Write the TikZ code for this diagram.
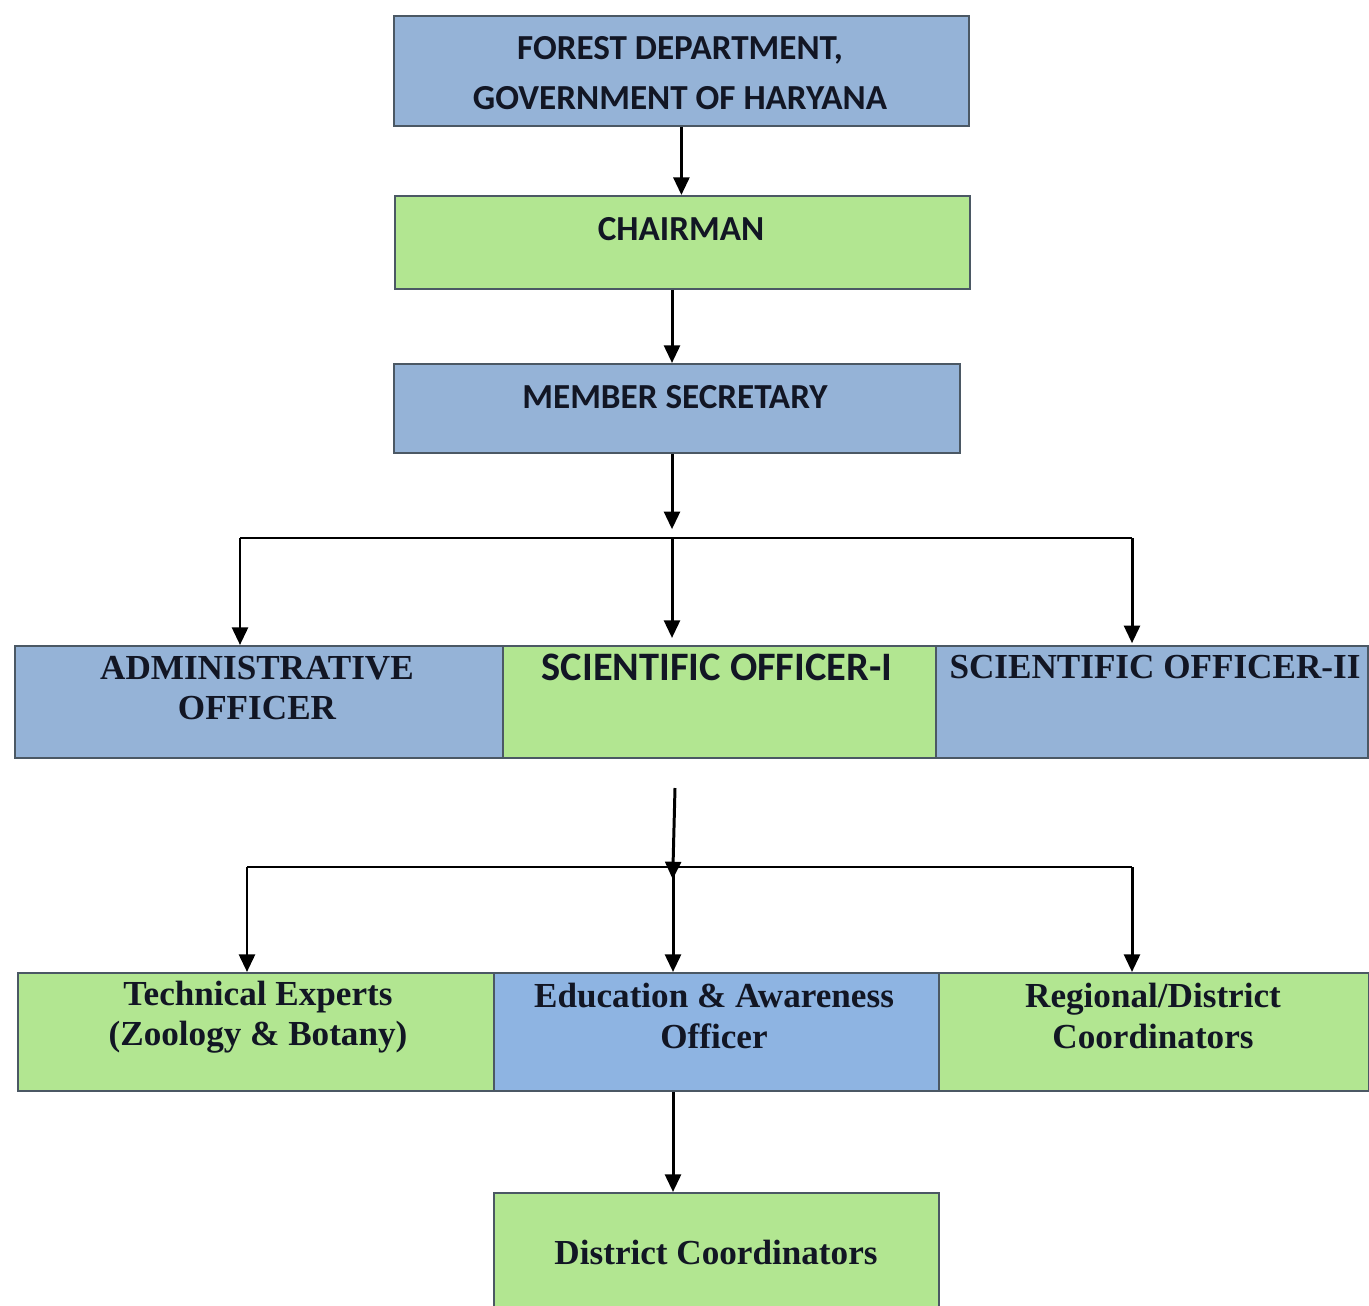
\documentclass[tikz,border=0pt]{standalone}
\usepackage{fontspec}
\usepackage{xcolor}
\usepackage{tikz}
\usetikzlibrary{arrows.meta}
\newfontfamily\calib{Carlito}
\newfontfamily\tnr{Liberation Serif}
\definecolor{boxblue}{RGB}{149,179,215}
\definecolor{edublue}{RGB}{142,180,226}
\definecolor{boxgreen}{RGB}{178,230,145}
\definecolor{boxline}{RGB}{75,88,100}
\definecolor{ink}{RGB}{18,22,36}
\begin{document}
\begin{tikzpicture}[x=0.02cm, y=-0.02cm,
    box/.style={draw=boxline, line width=1.1pt, anchor=north west, inner sep=0pt},
    bluebox/.style={box, fill=boxblue},
    greenbox/.style={box, fill=boxgreen},
    capsans/.style={text=ink, align=center, font=\calib\bfseries\fontsize{20}{28}\selectfont},
    serifbold/.style={text=ink, align=center, font=\tnr\bfseries\fontsize{20}{23}\selectfont},
    arrow/.style={line width=1.7pt, -{Triangle[length=10pt,width=9pt]}},
    busline/.style={line width=1.1pt}]
            \clip (0,0) rectangle (1369,1305);
            \fill[white] (0,0) rectangle (1369,1305);
            % Top of the chart
            \node[bluebox, minimum width=11.5cm, minimum height=2.2cm] (forest) at (393,15) {};
            \node[capsans] (forest-t) at (680,73) {FOREST DEPARTMENT,\\GOVERNMENT OF HARYANA};
            \node[greenbox, minimum width=11.5cm, minimum height=1.86cm] (chair) at (394,195) {};
            \node[capsans] (chair-t) at (681,229) {CHAIRMAN};
            \node[bluebox, minimum width=11.32cm, minimum height=1.78cm] (memsec) at (393,363) {};
            \node[capsans] (memsec-t) at (675,397) {MEMBER SECRETARY};
            % Officers
            \node[bluebox, minimum width=9.76cm, minimum height=2.24cm] (admin) at (14,645) {};
            \node[serifbold] (admin-t) at (257,688) {ADMINISTRATIVE\\OFFICER};
            \node[greenbox, minimum width=8.66cm, minimum height=2.24cm] (sci1) at (502,645) {};
            \node[capsans, font=\calib\bfseries\fontsize{23}{28}\selectfont] (sci1-t) at (717,667) {SCIENTIFIC OFFICER-I};
            \node[bluebox, minimum width=8.64cm, minimum height=2.24cm] (sci2) at (935,645) {};
            \node[serifbold] (sci2-t) at (1155,667) {SCIENTIFIC OFFICER-II};
            % Experts and coordinators
            \node[greenbox, minimum width=9.52cm, minimum height=2.36cm] (tech) at (17,972) {};
            \node[serifbold] (tech-t) at (258,1017) {Technical Experts\\(Zoology \& Botany)};
            \node[box, fill=edublue, minimum width=8.9cm, minimum height=2.36cm] (edu) at (493,972) {};
            \node[serifbold] (edu-t) at (714,1016) {Education \& Awareness\\Officer};
            \node[greenbox, minimum width=8.6cm, minimum height=2.36cm] (region) at (938,972) {};
            \node[serifbold] (region-t) at (1153,1016) {Regional/District\\Coordinators};
            \node[greenbox, minimum width=8.9cm, minimum height=2.8cm] (district) at (493,1192) {};
            \node[serifbold] (district-t) at (716,1252) {District Coordinators};
            % Bus points
            \coordinate (bus1l) at (240,538);
            \coordinate (bus1) at (672,538);
            \coordinate (bus1r) at (1132,538);
            \coordinate (src2) at (675,788);
            \coordinate (bus2l) at (247,867);
            \coordinate (bus2) at (673,867);
            \coordinate (bus2r) at (1132,867);
            % Connectors
            \draw[arrow] (forest.south) -- (chair.north -| forest.south);
            \draw[arrow] (chair.south -| bus1) -- (memsec.north -| bus1);
            \draw[arrow, shorten >=5pt] (memsec.south -| bus1) -- (bus1);
            \draw[busline] (bus1l) -- (bus1r);
            \draw[arrow] (bus1l) -- (admin.north -| bus1l);
            \draw[arrow, shorten >=4pt] (bus1) -- (sci1.north -| bus1);
            \draw[arrow, shorten >=1pt] (bus1r) -- (sci2.north -| bus1r);
            \draw[arrow, shorten >=-7pt] (src2) -- (bus2);
            \draw[busline] (bus2l) -- (bus2r);
            \draw[arrow] (bus2l) -- (tech.north -| bus2l);
            \draw[arrow] (bus2) -- (edu.north -| bus2);
            \draw[arrow] (bus2r) -- (region.north -| bus2r);
            \draw[arrow] (edu.south -| bus2) -- (district.north -| bus2);
        \end{tikzpicture}
\end{document}
